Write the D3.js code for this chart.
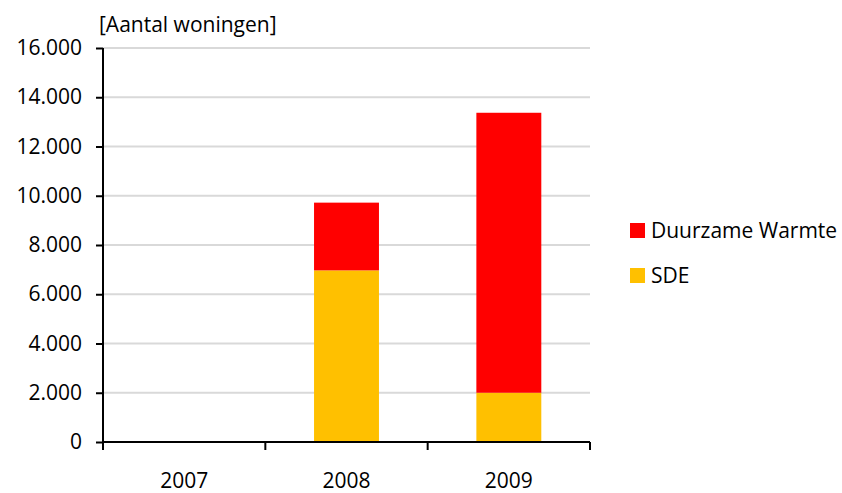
<!DOCTYPE html>
<html>
<head>
<meta charset="utf-8">
<script src="https://cdn.jsdelivr.net/npm/d3@7"></script>
<style>
  body { margin: 0; background: #fff; }
  svg text { font-family: "Open Sans", sans-serif; fill: #000; }
</style>
</head>
<body>
<svg id="chart"></svg>
<script>
// Data
var years = ["2007", "2008", "2009"];
var sde = [0, 6970, 2000];
var duurzameWarmte = [0, 2750, 11370];
var yTicks = [0, 2000, 4000, 6000, 8000, 10000, 12000, 14000, 16000];
var seriesNames = ["Duurzame Warmte", "SDE"];
var seriesColors = ["#ff0000", "#ffc000"];

var width = 842, height = 493;
var plotLeft = 103, plotRight = 590, plotTop = 48, plotBottom = 442;

var svg = d3.select("#chart")
  .attr("width", width)
  .attr("height", height);

// Scales
var xScale = d3.scaleBand()
  .domain(years)
  .range([plotLeft, plotRight])
  .paddingInner(0.6)
  .paddingOuter(0.3);

var yScale = d3.scaleLinear()
  .domain([0, 16000])
  .range([plotBottom, plotTop]);

// Gridlines
svg.append("g")
  .selectAll("line")
  .data(yTicks.slice(1))
  .enter()
  .append("line")
  .attr("x1", plotLeft)
  .attr("x2", plotRight)
  .attr("y1", function(d) { return yScale(d); })
  .attr("y2", function(d) { return yScale(d); })
  .attr("stroke", "#d9d9d9")
  .attr("stroke-width", 2);

// Stack the two series
var rows = years.map(function(y, i) {
  return { year: y, SDE: sde[i], "Duurzame Warmte": duurzameWarmte[i] };
});
var stack = d3.stack().keys(["SDE", "Duurzame Warmte"]);
var layers = stack(rows);

svg.append("g")
  .selectAll("g")
  .data(layers)
  .enter()
  .append("g")
  .attr("fill", function(d) { return d.key == "SDE" ? seriesColors[1] : seriesColors[0]; })
  .selectAll("rect")
  .data(function(d) { return d; })
  .enter()
  .append("rect")
  .attr("x", function(d) { return xScale(d.data.year); })
  .attr("width", xScale.bandwidth())
  .attr("y", function(d) { return yScale(d[1]); })
  .attr("height", function(d) { return yScale(d[0]) - yScale(d[1]); });

// Y axis
var yAxis = svg.append("g")
  .attr("transform", "translate(" + plotLeft + ",0)")
  .call(d3.axisLeft(yScale)
    .tickValues(yTicks)
    .tickSize(7)
    .tickPadding(14)
    .tickFormat(function(d) { return d3.format(",")(d).replace(/,/g, "."); }));
yAxis.select(".domain").remove();
yAxis.append("line")
  .attr("x1", 0).attr("x2", 0)
  .attr("y1", plotTop).attr("y2", plotBottom)
  .attr("stroke", "#000").attr("stroke-width", 2);
yAxis.selectAll(".tick line").attr("stroke", "#000").attr("stroke-width", 2);
yAxis.selectAll("text")
  .style("font-size", "21px")
  .attr("font-family", null);

// X axis, ticks between the categories
var xAxis = svg.append("g")
  .attr("transform", "translate(0," + plotBottom + ")");
xAxis.append("line")
  .attr("x1", plotLeft).attr("x2", plotRight)
  .attr("stroke", "#000").attr("stroke-width", 2);
var bounds = [plotLeft].concat(years.slice(1).map(function(y) {
  return xScale(y) - xScale.step() * xScale.paddingInner() / 2;
})).concat([plotRight]);
xAxis.selectAll(".xtick")
  .data(bounds)
  .enter()
  .append("line")
  .attr("x1", function(d) { return d; })
  .attr("x2", function(d) { return d; })
  .attr("y1", 0).attr("y2", 8)
  .attr("stroke", "#000").attr("stroke-width", 2);
xAxis.selectAll(".xlabel")
  .data(years)
  .enter()
  .append("text")
  .attr("x", function(d) { return xScale(d) + xScale.bandwidth() / 2; })
  .attr("y", 46)
  .attr("text-anchor", "middle")
  .style("font-size", "21px")
  .text(function(d) { return d; });

// Axis unit
svg.append("text")
  .attr("x", 99)
  .attr("y", 32)
  .style("font-size", "21px")
  .text("[Aantal woningen]");

// Legend
var legend = svg.append("g")
  .selectAll("g")
  .data(seriesNames)
  .enter()
  .append("g")
  .attr("transform", function(d, i) { return "translate(630," + (223 + i * 45) + ")"; });
legend.append("rect")
  .attr("width", 15).attr("height", 15)
  .attr("fill", function(d, i) { return seriesColors[i]; });
legend.append("text")
  .attr("x", 21)
  .attr("y", 8)
  .attr("dy", "0.35em")
  .style("font-size", "21px")
  .text(function(d) { return d; });
</script>
</body>
</html>
